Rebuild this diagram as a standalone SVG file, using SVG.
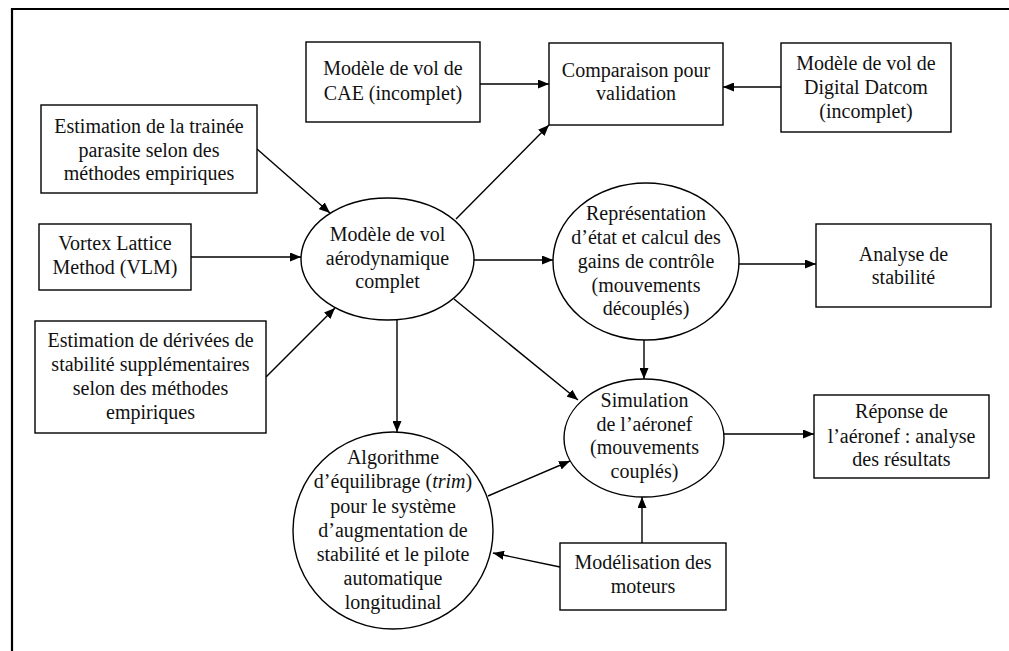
<svg xmlns="http://www.w3.org/2000/svg" width="1009" height="651" viewBox="0 0 1009 651">
<style>
.n{fill:#fff;stroke:#000;stroke-width:1.4}
.t{font-family:"Liberation Serif","Times New Roman",serif;font-size:20px;fill:#111;text-anchor:middle}
.c{fill:none;stroke:#000;stroke-width:1.4;marker-end:url(#ah)}
.f{fill:none;stroke:#000;stroke-width:2.2}
</style>
<defs>
<marker id="ah" markerUnits="userSpaceOnUse" markerWidth="11" markerHeight="9" refX="11" refY="4.5" orient="auto">
<path d="M0,0 L11,4.5 L0,9 z" fill="#000"/>
</marker>
</defs>
<rect width="1009" height="651" fill="#fff"/>
<path class="f" d="M12,651 L12,9 L1009,9"/>
<g id="connectors">
<path class="c" d="M480,84 L549,84"/>
<path class="c" d="M781,87 L723,87"/>
<path class="c" d="M456,219 L549,125"/>
<path class="c" d="M257,149 L330,213"/>
<path class="c" d="M191,257 L301,257"/>
<path class="c" d="M266,377 L335,308"/>
<path class="c" d="M474,260 L553,260"/>
<path class="c" d="M739,264 L816,264"/>
<path class="c" d="M644,340 L644,379"/>
<path class="c" d="M454,299 L578,400"/>
<path class="c" d="M397,320 L397,432"/>
<path class="c" d="M488,496 L570,461"/>
<path class="c" d="M560,567 L493,553"/>
<path class="c" d="M642,543 L642,497"/>
<path class="c" d="M724,434 L814,434"/>
</g>
<g id="cae">
<rect class="n" x="306" y="42" width="174" height="80"/>
<text class="t" x="393" y="75">Modèle de vol de</text>
<text class="t" x="393" y="100">CAE (incomplet)</text>
</g>
<g id="comparaison">
<rect class="n" x="549" y="43" width="174" height="82"/>
<text class="t" x="636" y="77">Comparaison pour</text>
<text class="t" x="636" y="100">validation</text>
</g>
<g id="datcom">
<rect class="n" x="781" y="43" width="170" height="89"/>
<text class="t" x="866" y="70">Modèle de vol de</text>
<text class="t" x="866" y="94">Digital Datcom</text>
<text class="t" x="866" y="118">(incomplet)</text>
</g>
<g id="trainee">
<rect class="n" x="41" y="105" width="216" height="88"/>
<text class="t" x="149" y="133">Estimation de la trainée</text>
<text class="t" x="149" y="157">parasite selon des</text>
<text class="t" x="149" y="180">méthodes empiriques</text>
</g>
<g id="vlm">
<rect class="n" x="39" y="224" width="152" height="66"/>
<text class="t" x="115" y="250">Vortex Lattice</text>
<text class="t" x="115" y="274">Method (VLM)</text>
</g>
<g id="derivees">
<rect class="n" x="35" y="321" width="231" height="112"/>
<text class="t" x="150.5" y="347">Estimation de dérivées de</text>
<text class="t" x="150.5" y="371">stabilité supplémentaires</text>
<text class="t" x="150.5" y="395">selon des méthodes</text>
<text class="t" x="150.5" y="419">empiriques</text>
</g>
<g id="modele">
<ellipse class="n" cx="387.5" cy="259" rx="86.5" ry="61"/>
<text class="t" x="387.5" y="241">Modèle de vol</text>
<text class="t" x="387.5" y="265">aérodynamique</text>
<text class="t" x="387.5" y="288">complet</text>
</g>
<g id="representation">
<ellipse class="n" cx="646" cy="261.5" rx="93" ry="78.5"/>
<text class="t" x="646" y="220">Représentation</text>
<text class="t" x="646" y="244">d’état et calcul des</text>
<text class="t" x="646" y="268">gains de contrôle</text>
<text class="t" x="646" y="292">(mouvements</text>
<text class="t" x="646" y="315">découplés)</text>
</g>
<g id="analyse">
<rect class="n" x="816" y="224" width="175" height="83"/>
<text class="t" x="903.5" y="261">Analyse de</text>
<text class="t" x="903.5" y="284">stabilité</text>
</g>
<g id="simulation">
<ellipse class="n" cx="644" cy="438" rx="80" ry="59"/>
<text class="t" x="644.5" y="407">Simulation</text>
<text class="t" x="644.5" y="431">de l’aéronef</text>
<text class="t" x="644.5" y="454">(mouvements</text>
<text class="t" x="644.5" y="478">couplés)</text>
</g>
<g id="reponse">
<rect class="n" x="814" y="395" width="175" height="83"/>
<text class="t" x="901.5" y="418">Réponse de</text>
<text class="t" x="901.5" y="443">l’aéronef : analyse</text>
<text class="t" x="901.5" y="466">des résultats</text>
</g>
<g id="algorithme">
<ellipse class="n" cx="393" cy="530.5" rx="100" ry="98.5"/>
<text class="t" x="393" y="464">Algorithme</text>
<text class="t" x="393" y="488">d’équilibrage (<tspan font-style="italic">trim</tspan>)</text>
<text class="t" x="393" y="513">pour le système</text>
<text class="t" x="393" y="537">d’augmentation de</text>
<text class="t" x="393" y="561">stabilité et le pilote</text>
<text class="t" x="393" y="585">automatique</text>
<text class="t" x="393" y="609">longitudinal</text>
</g>
<g id="moteurs">
<rect class="n" x="560" y="543" width="166" height="67"/>
<text class="t" x="643" y="569">Modélisation des</text>
<text class="t" x="643" y="593">moteurs</text>
</g>
</svg>
